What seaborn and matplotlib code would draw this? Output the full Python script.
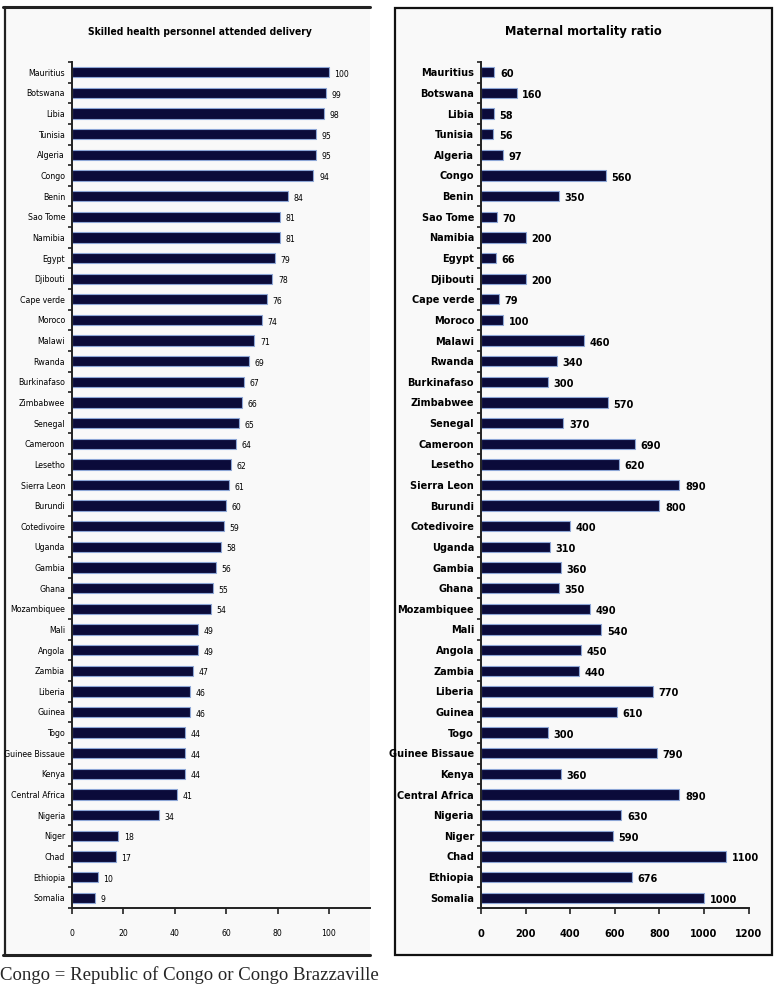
import numpy as np
import pandas as pd
import matplotlib
matplotlib.use('Agg')
import matplotlib.pyplot as plt
import seaborn as sns
from matplotlib.lines import Line2D
from matplotlib.patches import Rectangle
from matplotlib.ticker import FixedLocator

countries = ['Mauritius', 'Botswana', 'Libia', 'Tunisia', 'Algeria', 'Congo', 'Benin',
             'Sao Tome', 'Namibia', 'Egypt', 'Djibouti', 'Cape verde', 'Moroco', 'Malawi',
             'Rwanda', 'Burkinafaso', 'Zimbabwee', 'Senegal', 'Cameroon', 'Lesetho',
             'Sierra Leon', 'Burundi', 'Cotedivoire', 'Uganda', 'Gambia', 'Ghana',
             'Mozambiquee', 'Mali', 'Angola', 'Zambia', 'Liberia', 'Guinea', 'Togo',
             'Guinee Bissaue', 'Kenya', 'Central Africa', 'Nigeria', 'Niger', 'Chad',
             'Ethiopia', 'Somalia']
skilled = [100, 99, 98, 95, 95, 94, 84, 81, 81, 79, 78, 76, 74, 71, 69, 67, 66, 65, 64, 62,
           61, 60, 59, 58, 56, 55, 54, 49, 49, 47, 46, 46, 44, 44, 44, 41, 34, 18, 17, 10, 9]
mmr = [60, 160, 58, 56, 97, 560, 350, 70, 200, 66, 200, 79, 100, 460, 340, 300, 570, 370,
       690, 620, 890, 800, 400, 310, 360, 350, 490, 540, 450, 440, 770, 610, 300, 790, 360,
       890, 630, 590, 1100, 676, 1000]
left_ticks = [0, 20, 40, 60, 80, 100]
right_ticks = [0, 200, 400, 600, 800, 1000, 1200]

df = pd.DataFrame({'country': countries, 'skilled': skilled, 'mmr': mmr})

sns.set_theme(style='white')
plt.rcParams['font.family'] = ['DejaVu Sans']
plt.rcParams['font.stretch'] = 'condensed'

bar_color = '#0b0b3a'
edge_color = '#8da6d6'

fig = plt.figure(figsize=(7.8, 9.85), dpi=100)
W, H = 780, 985


def fx(px):
    return px / W


def fy(py):
    return 1 - py / H


# panel backgrounds / frames
fig.patches.append(Rectangle((fx(5), fy(955)), fx(365), 948 / H, transform=fig.transFigure,
                             facecolor='#f9f9f9', edgecolor='none', zorder=-2))
fig.lines.append(Line2D([fx(3), fx(370)], [fy(7), fy(7)], transform=fig.transFigure,
                        color='#222222', lw=2.2, zorder=-1))
fig.lines.append(Line2D([fx(5), fx(5)], [fy(7), fy(955)], transform=fig.transFigure,
                        color='#222222', lw=1.6, zorder=-1))
fig.lines.append(Line2D([fx(3), fx(370)], [fy(955), fy(955)], transform=fig.transFigure,
                        color='#222222', lw=2.2, zorder=-1))
fig.patches.append(Rectangle((fx(395), fy(955)), fx(377), 947 / H, transform=fig.transFigure,
                             facecolor='#f9f9f9', edgecolor='#111111', lw=1.6, zorder=-2))

ax1 = fig.add_axes([fx(72), fy(908), fx(298), 846 / H])
ax2 = fig.add_axes([fx(481), fy(908), fx(267.5), 846 / H])

# ax, column, ticks, xmax, title, label size, label weight, value size, title size, title x
panels = [
    (ax1, 'skilled', left_ticks, 116, 'Skilled health personnel attended delivery',
     6.3, 'normal', 6.2, 7.4, fx(200)),
    (ax2, 'mmr', right_ticks, 1200, 'Maternal mortality ratio',
     7.8, 'bold', 7.8, 9.2, fx(583)),
]

for ax, col, ticks, xmax, title, fs, fw, vfs, tfs, tx in panels:
    ax.set_facecolor('none')
    sns.barplot(data=df, x=col, y='country', orient='h', color=bar_color,
                edgecolor=edge_color, linewidth=0.8, width=0.5, ax=ax, saturation=1)
    ax.set_xlim(0, xmax)
    ax.set_ylim(40.5, -0.5)
    ax.set_xticks(ticks)
    ax.set_xlabel('')
    ax.set_ylabel('')
    for i, v in enumerate(df[col]):
        ax.annotate(str(v), (v, i), xytext=(4, -1.5), textcoords='offset points',
                    va='center', ha='left', fontsize=vfs, color='black', fontweight=fw)
    ax.yaxis.set_minor_locator(FixedLocator(np.arange(-0.5, 41, 1)))
    ax.tick_params(axis='y', which='major', length=0, pad=5, labelsize=fs)
    ax.tick_params(axis='y', which='minor', length=3, width=1.2, color='#222222', left=True)
    ax.tick_params(axis='x', which='major', length=4, width=1.2, color='#222222',
                   bottom=True, pad=11, labelsize=vfs)
    for lab in ax.get_yticklabels() + ax.get_xticklabels():
        lab.set_fontweight(fw)
        lab.set_color('black')
    for s in ['top', 'right']:
        ax.spines[s].set_visible(False)
    for s in ['left', 'bottom']:
        ax.spines[s].set_color('#222222')
        ax.spines[s].set_linewidth(1.4)
    fig.text(tx, fy(32), title, ha='center', va='center', fontsize=tfs, fontweight='bold',
             color='black')

fig.text(0.0, fy(975), 'Congo = Republic of Congo or Congo Brazzaville', ha='left',
         va='center', fontsize=13.5, family=['Liberation Serif', 'DejaVu Serif'],
         stretch='normal')

fig.savefig('out.png', dpi=100, facecolor='white')
